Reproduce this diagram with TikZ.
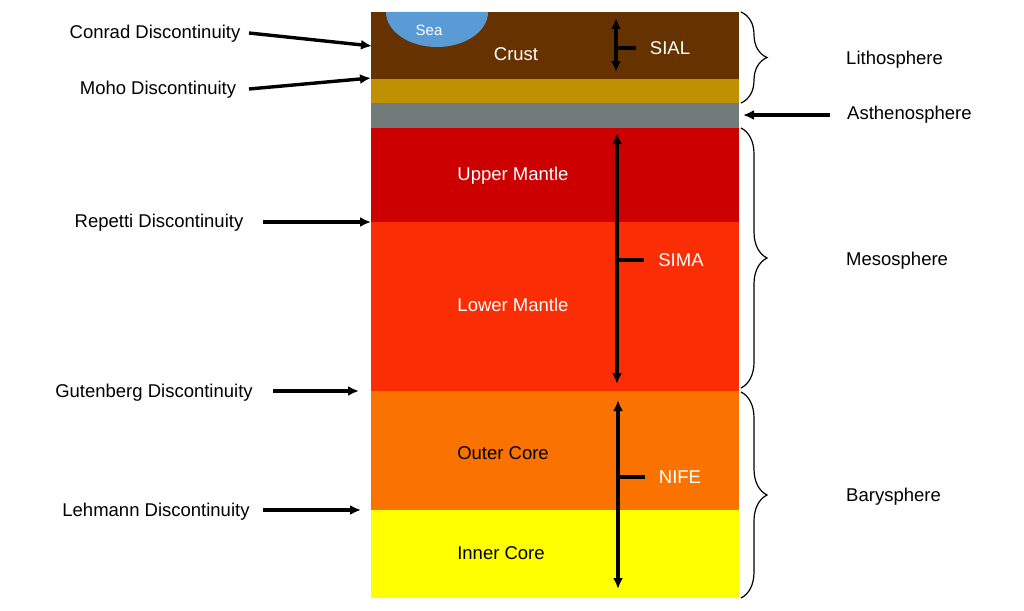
\documentclass[tikz,border=0pt]{standalone}
\usepackage{fontspec}
\setmainfont{Liberation Sans}
\usetikzlibrary{arrows.meta,positioning,calc,decorations.pathreplacing}
\definecolor{crustc}{HTML}{663300}
\definecolor{mohoc}{HTML}{BF9000}
\definecolor{asthc}{HTML}{717B7A}
\definecolor{upperc}{HTML}{CC0000}
\definecolor{lowerc}{HTML}{FA2D05}
\definecolor{outerc}{HTML}{FA7300}
\definecolor{innerc}{HTML}{FFFF00}
\definecolor{seac}{HTML}{5B9BD5}
\tikzset{
  lbl/.style = {font=\fontsize{18.5}{21}\selectfont, inner sep=0pt, yshift=-2pt},
  wlbl/.style = {lbl, white},
  ptr/.style = {-{Latex[length=11pt,width=10pt]}, line width=3.4pt},
  dptr/.style = {{Latex[length=11pt,width=10pt]}-{Latex[length=11pt,width=10pt]}, line width=3.4pt},
  tick/.style = {line width=3.4pt},
  brc/.style = {decorate, decoration={brace, amplitude=26pt, aspect=0.5}, line width=1.2pt}
}
\begin{document}
\begin{tikzpicture}[x=1pt,y=-1pt]
\useasboundingbox (0,0) rectangle (1024,610);
% layers
\fill[crustc] (371,12) rectangle (739,79);
\fill[mohoc] (371,79) rectangle (739,103);
\fill[asthc] (371,103) rectangle (739,128);
\fill[upperc] (371,128) rectangle (739,222);
\fill[lowerc] (371,222) rectangle (739,391);
\fill[outerc] (371,391) rectangle (739,510);
\fill[innerc] (371,510) rectangle (739,598);
\fill[seac] (386,12) arc[start angle=180, end angle=360, x radius=51, y radius=-35] -- cycle;
\node[wlbl, font=\fontsize{15}{17}\selectfont] (sea) at (429,28) {Sea};
\node[wlbl] (crust) at (516,52) {Crust};
\node[wlbl] (um) at (513,174) {Upper Mantle};
\node[wlbl] (lm) at (513,303) {Lower Mantle};
\node[lbl] (oc) at (503,451) {Outer Core};
\node[lbl] (ic) at (501,551) {Inner Core};

% SIAL / SIMA / NIFE
\coordinate (sialT) at (616,18); \coordinate (sialB) at (616,72);
\draw[dptr] (sialT) -- (sialB);
\node[wlbl] (sial) at (670,46) {SIAL};
\draw[tick] (sialT |- sial.west) -- ([xshift=-14pt]sial.west);
\coordinate (simaT) at (617,133); \coordinate (simaB) at (617,384);
\draw[dptr] (simaT) -- (simaB);
\node[wlbl] (sima) at (681,258) {SIMA};
\draw[tick] (simaT |- sima.west) -- ([xshift=-14pt]sima.west);
\coordinate (nifeT) at (618,400); \coordinate (nifeB) at (618,589);
\draw[dptr] (nifeT) -- (nifeB);
\node[wlbl] (nife) at (680,475) {NIFE};
\draw[tick] (nifeT |- nife.west) -- ([xshift=-14pt]nife.west);

% braces
\draw[brc] (741,12) -- (741,103);
\node[lbl, anchor=west] (litho) at (846,58) {Lithosphere};
\draw[brc] (741,128) -- (741,388);
\node[lbl, anchor=west] (meso) at (846,259) {Mesosphere};
\draw[brc] (741,392) -- (741,598);
\node[lbl, anchor=west] (bary) at (846,495) {Barysphere};
\node[lbl, anchor=west] (astheno) at (847,113) {Asthenosphere};
\coordinate (asthE) at (743,115);
\draw[ptr] (830,115) -- (asthE);

% discontinuities
\node[lbl] (conrad) at (155,32) {Conrad Discontinuity};
\coordinate (conradE) at (372,46);
\draw[ptr] (249,33) -- (conradE);
\node[lbl] (moho) at (158,88) {Moho Discontinuity};
\coordinate (mohoE) at (371,78);
\draw[ptr] (249,89) -- (mohoE);
\node[lbl] (repetti) at (159,221) {Repetti Discontinuity};
\coordinate (repettiE) at (371,222);
\draw[ptr] (263,222) -- (repettiE);
\node[lbl] (guten) at (154,391) {Gutenberg Discontinuity};
\coordinate (gutenE) at (359,391);
\draw[ptr] (273,391) -- (gutenE);
\node[lbl] (lehmann) at (156,510) {Lehmann Discontinuity};
\coordinate (lehmannE) at (361,510);
\draw[ptr] (263,510) -- (lehmannE);
\end{tikzpicture}
\end{document}
